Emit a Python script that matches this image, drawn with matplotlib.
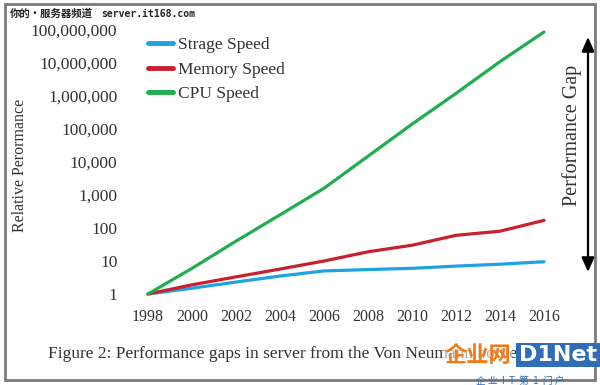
import matplotlib
matplotlib.use("Agg")
import matplotlib.pyplot as plt
from matplotlib.patches import Rectangle, FancyArrowPatch
import matplotlib.ticker as mticker

years = [1998, 2000, 2002, 2004, 2006, 2008, 2010, 2012, 2014, 2016]
storage_speed = [1, 1.5, 2.3, 3.5, 5, 5.5, 6, 7, 8, 9.5]
memory_speed = [1, 1.9, 3.3, 5.7, 10, 19, 30, 60, 80, 170]
cpu_speed = [1, 6, 40, 250, 1600, 15000, 140000, 1.2e6, 1.1e7, 8.7e7]
series_names = ["Strage Speed", "Memory Speed", "CPU Speed"]
ytick_values = [1, 10, 100, 1e3, 1e4, 1e5, 1e6, 1e7, 1e8]
ytick_labels = ["1", "10", "100", "1,000", "10,000", "100,000", "1,000,000", "10,000,000", "100,000,000"]

W, H = 600, 385
fig = plt.figure(figsize=(6, 3.85), dpi=100)
fig.patch.set_facecolor("white")

def fx(px):
    return px / W

def fy(py):
    return 1 - py / H

left, right, bottom, top = 148, 544, 294, 30
ax = fig.add_axes([fx(left), fy(bottom), fx(right) - fx(left), fy(top) - fy(bottom)])
ax.set_yscale("log")
ax.set_xlim(1998, 2016)
ax.set_ylim(1, 1e8)
for s in ax.spines.values():
    s.set_visible(False)

serif = "Liberation Serif"
colors = ["#1FA3E0", "#C9202E", "#1EAE4E"]
for vals, c, n in zip([storage_speed, memory_speed, cpu_speed], colors, series_names):
    ax.plot(years, vals, color=c, lw=2.3, label=n, clip_on=False, solid_capstyle="round")

ax.set_xticks(years)
ax.set_xticklabels([str(y) for y in years], fontfamily=serif, fontsize=11.5, color="#333333")
ax.set_yticks(ytick_values)
ax.set_yticklabels(ytick_labels, fontfamily=serif, fontsize=12.5, color="#333333")
ax.yaxis.set_minor_locator(mticker.NullLocator())
ax.tick_params(axis="both", length=0)
ax.tick_params(axis="x", pad=11)
ax.tick_params(axis="y", pad=22)

leg = ax.legend(loc="upper left", bbox_to_anchor=(fx(132), fy(21)), bbox_transform=fig.transFigure,
                frameon=False, handlelength=1.45, handletextpad=0.3, labelspacing=0.5,
                prop={"family": serif, "size": 12.5})
for h in leg.get_lines():
    h.set_linewidth(3.5)
for t in leg.get_texts():
    t.set_color("#333333")

fig.text(fx(20), fy(165), "Relative Perormance", rotation=90, ha="center", va="center",
         fontfamily=serif, fontsize=11.5, color="#333333")

fig.text(fx(48), fy(354), "Figure 2: Performance gaps in server from the Von Neumann bottleneck",
         ha="left", va="center", fontfamily=serif, fontsize=12.5, color="#333333")

# Performance gap arrow
arr = FancyArrowPatch((fx(588), fy(272)), (fx(588), fy(37)), transform=fig.transFigure,
                      arrowstyle="<|-|>,head_length=8.6,head_width=3.8", color="black", lw=1.6,
                      mutation_scale=1, shrinkA=0, shrinkB=0)
fig.add_artist(arr)
fig.text(fx(572), fy(135), "Performance Gap", rotation=90, ha="center", va="center",
         fontfamily=serif, fontsize=14.5, color="#333333")

# Frame border
fig.add_artist(Rectangle((fx(5), fy(380)), fx(590), fy(4) - fy(380), transform=fig.transFigure,
                         fill=False, edgecolor="#7a7a7a", lw=2))

# Watermarks
fig.text(fx(10), fy(14), "你的•服务器频道", ha="left", va="center",
         family=["Noto Sans CJK SC", "DejaVu Sans"], fontsize=7.5, fontweight="bold", color="#222222")
fig.text(fx(101), fy(14), "server.it168.com", ha="left", va="center",
         family="DejaVu Sans Mono", fontsize=7, fontweight="bold", color="#222222")

fig.text(fx(478), fy(355), "企业网", ha="center", va="center", zorder=5,
         family=["Noto Sans CJK SC", "DejaVu Sans"], fontsize=16, fontweight="bold", color="#F07A18",
         bbox=dict(facecolor="white", edgecolor="none", pad=0.5, alpha=0.6))
fig.add_artist(Rectangle((fx(516), fy(367)), fx(84), fy(343) - fy(367), transform=fig.transFigure,
                         facecolor="#2F6DB8", edgecolor="none", zorder=5))
fig.text(fx(558), fy(355), "D1Net", ha="center", va="center", zorder=6,
         family="DejaVu Sans", fontsize=16, fontweight="bold", color="white")
fig.text(fx(520), fy(381), "企 业  I  T  第  1  门 户", ha="center", va="center",
         family=["Noto Sans CJK SC", "DejaVu Sans"], fontsize=7, color="#2F6DB8")

fig.savefig("out.png", dpi=100)
